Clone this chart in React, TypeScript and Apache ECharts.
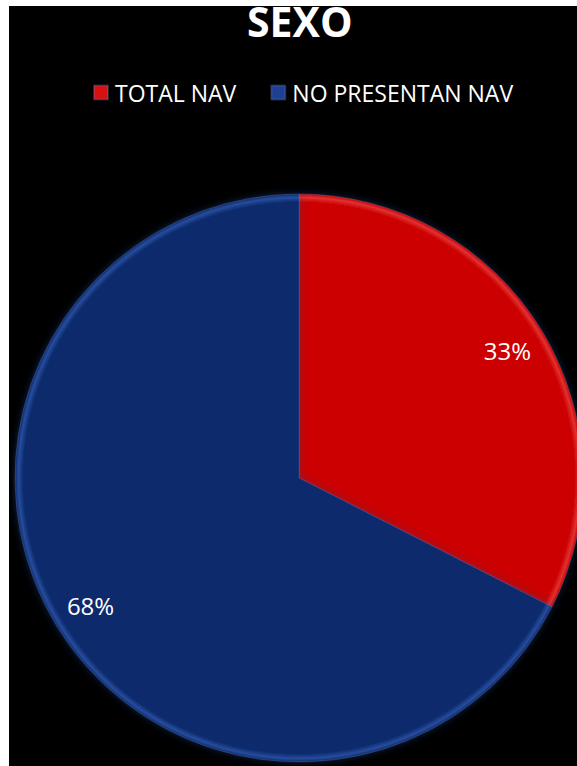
import React, { useEffect, useRef } from "react";
import * as echarts from "echarts";

const TITLE = "SEXO";
const CATEGORIES = ["TOTAL NAV", "NO PRESENTAN NAV"];
const VALUES = [32.5, 67.5];
const COLORS = ["#cc0000", "#0a2a6c"];
const RIMS = ["#e03232", "#284c9c"];
const LEGEND_COLORS = ["#d81010", "#1e3f92"];

export default function App() {
  const ref = useRef<HTMLDivElement>(null);
  useEffect(() => {
    if (!ref.current) return;
    const chart = echarts.init(ref.current, null, { renderer: "svg" });
    const cx = 290;
    const cy = 472;
    const R = 284;
    const fill = (i: number) =>
      new echarts.graphic.RadialGradient(
        cx,
        cy,
        R,
        [
          { offset: 0, color: COLORS[i] },
          { offset: 0.97, color: COLORS[i] },
          { offset: 0.988, color: RIMS[i] },
          { offset: 1, color: COLORS[i] },
        ],
        true
      );
    const data = CATEGORIES.map((name, i) => ({
      name,
      value: VALUES[i],
      itemStyle: { color: fill(i) },
    }));
    chart.setOption({
      animation: false,
      backgroundColor: "#000000",
      title: {
        text: TITLE,
        left: 238,
        top: 3,
        padding: [0, 0, 0, 0],
        textStyle: {
          color: "#ffffff",
          fontFamily: "Open Sans",
          fontWeight: "bold",
          fontSize: 41,
          lineHeight: 24,
        },
      },
      legend: {
        top: 70,
        left: 79,
        itemWidth: 14,
        itemHeight: 14,
        itemGap: 34,
        icon: "rect",
        data: CATEGORIES.map((name, i) => ({
          name,
          itemStyle: { color: LEGEND_COLORS[i] },
        })),
        textStyle: {
          color: "#ffffff",
          fontFamily: "Open Sans",
          fontSize: 23,
          padding: [0, 0, 0, 2],
        },
        selectedMode: false,
      },
      series: [
        {
          type: "pie",
          center: [cx, cy],
          radius: [0, R],
          startAngle: 90,
          clockwise: true,
          silent: true,
          label: { show: false },
          labelLine: { show: false },
          itemStyle: {
            borderColor: "rgba(110,130,190,0.3)",
            borderWidth: 1,
            shadowBlur: 8,
            shadowColor: "rgba(40,70,140,0.45)",
          },
          data,
        },
        {
          type: "pie",
          center: [cx, cy],
          radius: [199, R],
          startAngle: 90,
          clockwise: true,
          silent: true,
          itemStyle: { color: "rgba(0,0,0,0)" },
          label: {
            show: true,
            position: "inside",
            color: "#ffffff",
            fontFamily: "Open Sans",
            fontSize: 24,
            formatter: (p: any) => Math.round(p.value) + "%",
          },
          labelLine: { show: false },
          data: CATEGORIES.map((name, i) => ({ name, value: VALUES[i] })),
        },
      ],
    });
    return () => chart.dispose();
  }, []);
  return (
    <div
      style={{
        position: "absolute",
        left: 0,
        top: 0,
        width: 577,
        height: 766,
        background: "#ffffff",
      }}
    >
      <div
        ref={ref}
        style={{
          position: "absolute",
          left: 9,
          top: 6,
          width: 568,
          height: 760,
        }}
      />
    </div>
  );
}
